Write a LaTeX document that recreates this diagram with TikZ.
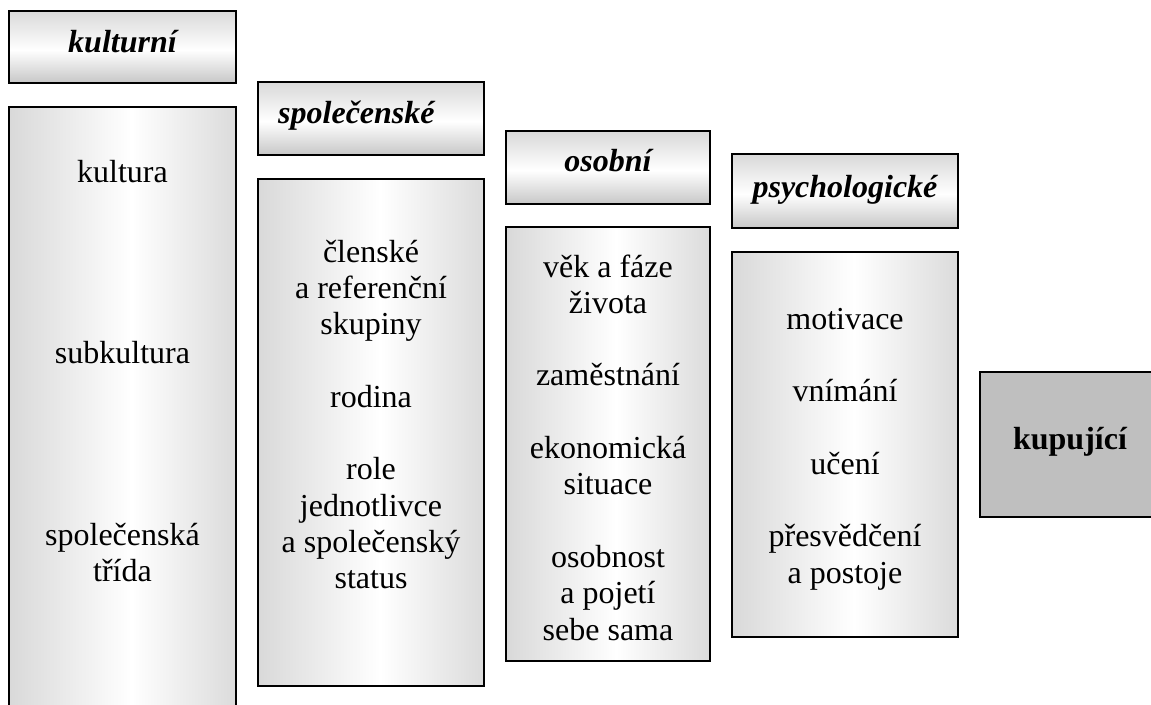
\documentclass[tikz,border=0pt]{standalone}
\usepackage{fontspec}
\setmainfont{Liberation Serif}
\usepackage{tikz}

\pgfdeclarehorizontalshading{bodyshade}{100bp}{color(0bp)=(black!15); color(25bp)=(black!15); color(52bp)=(white); color(75bp)=(black!14); color(100bp)=(black!14)}
\pgfdeclareverticalshading{headshade}{100bp}{color(0bp)=(black!22); color(25bp)=(black!22); color(48bp)=(white); color(75bp)=(black!15); color(100bp)=(black!15)}

\tikzset{
  headbox/.style={shade, shading=headshade, draw=black, line width=1.6pt},
  bodybox/.style={shade, shading=bodyshade, draw=black, line width=1.6pt},
  headtext/.style={inner sep=0pt, anchor=base, font=\fontsize{32}{36.3}\selectfont\bfseries\itshape},
  bodytext/.style={inner sep=0pt, anchor=north, align=center, font=\fontsize{32}{36.3}\selectfont}
}

\begin{document}
\begin{tikzpicture}[x=1pt, y=-1pt]
			\useasboundingbox (0,0) rectangle (1151,704);
			
			% headers
			\path[headbox] (9,11) rectangle (236,83);
			\path[headbox] (258,82) rectangle (484,155);
			\path[headbox] (506,131) rectangle (710,204);
			\path[headbox] (732,154) rectangle (958,228);
			
			% bodies
			\path[bodybox] (9,107) rectangle (236,712);
			\path[bodybox] (258,179) rectangle (484,686);
			\path[bodybox] (506,227) rectangle (710,661);
			\path[bodybox] (732,252) rectangle (958,637);
			\filldraw[fill = black!25, draw = black, line width=1.6pt] (980,372) rectangle (1165,517);
			
			\node[headtext] (kulturni) at (122.5,52) {kulturní};
			\node[headtext, anchor=base west] (spolecenske) at (278,123) {společenské};
			\node[headtext] (osobni) at (608,171) {osobní};
			\node[headtext] (psychologicke) at (845,197) {psychologické};
			
			\node[bodytext] (kultura) at (122.5,156.4) {\strut kultura\\ \\ \\ \\ \\subkultura\\ \\ \\ \\ \\společenská\\třída};
			\node[bodytext] (skupiny) at (371,236.4) {\strut členské\\a referenční\\skupiny\\ \\rodina\\ \\role\\jednotlivce\\a společenský\\status};
			\node[bodytext] (zivot) at (608,251.4) {\strut věk a fáze\\života\\ \\zaměstnání\\ \\ekonomická\\situace\\ \\osobnost\\a pojetí\\sebe sama};
			\node[bodytext] (motivace) at (845,303.4) {\strut motivace\\ \\vnímání\\ \\učení\\ \\přesvědčení\\a postoje};
			
			\node[inner sep=0pt, anchor=base, font=\fontsize{32}{36.3}\selectfont\bfseries] (kupujici) at (1070,449) {kupující};
\end{tikzpicture}
\end{document}
